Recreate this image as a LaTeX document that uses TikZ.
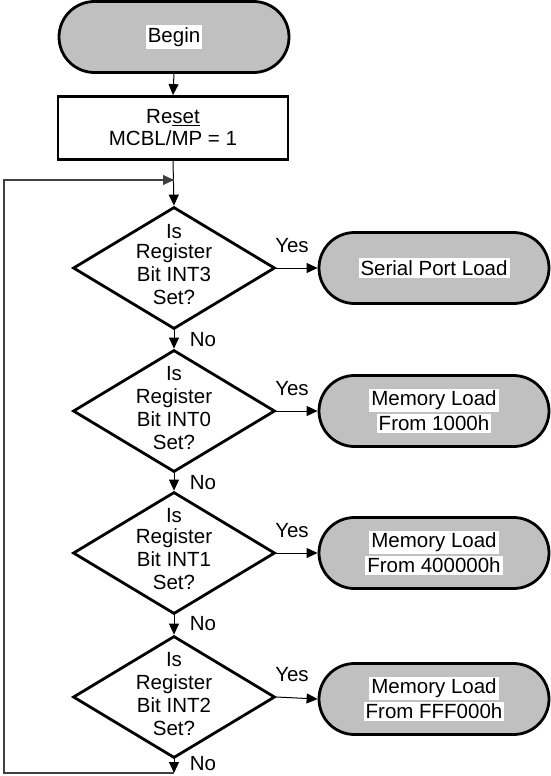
\documentclass[tikz,border=0pt]{standalone}
\usepackage{fontspec}
\setmainfont{Liberation Sans}
\usetikzlibrary{shapes.geometric,shapes.misc,arrows.meta}
\definecolor{termgray}{HTML}{C0C0C0}
\newcommand{\tbox}[1]{{\setlength{\fboxsep}{2pt}\colorbox{white}{#1}}}
\tikzset{
  every node/.style={font=\fontsize{20.5}{23}\selectfont},
  term/.style={rounded rectangle, draw=black, line width=2.8pt, fill=termgray,
    minimum width=230pt, minimum height=71pt, inner sep=0pt, align=center},
  procbox/.style={rectangle, draw=black, line width=2.8pt, fill=white,
    minimum width=230pt, minimum height=63pt, inner sep=0pt, align=center},
  dec/.style={diamond, draw=black, line width=2.8pt, fill=white,
    minimum width=202pt, minimum height=122pt, inner sep=0pt},
  dtext/.style={align=center, inner sep=0pt},
  lbl/.style={inner sep=0pt},
  conn/.style={line width=1pt, -{Triangle[length=11pt,width=10pt]}},
  loopline/.style={line width=1.2pt, draw=black!75},
}
\begin{document}
\begin{tikzpicture}[x=1pt,y=-1pt]
\useasboundingbox (0,0) rectangle (550,776);
% start and reset
\node[term] (begin) at (174,37) {\tbox{Begin}};
\node[procbox] (reset) at (173,128) {Re\underline{set}\\[-1pt]MCBL/MP = 1};
% decisions
\node[dec] (d1) at (174,268) {};
\node[dec] (d2) at (174,411) {};
\node[dec] (d3) at (174,553) {};
\node[dec] (d4) at (174,697) {};
\node[dtext] (d1t) at (174,265) {Is\\[-3pt]Register\\Bit INT3\\Set?};
\node[dtext] (d2t) at (174,408) {Is\\Register\\Bit INT0\\Set?};
\node[dtext] (d3t) at (174,549) {Is\\[-2pt]Register\\Bit INT1\\Set?};
\node[dtext] (d4t) at (174,694) {Is\\Register\\Bit INT2\\Set?};
% terminals
\node[term] (t1) at (434,268) {\tbox{Serial Port Load}};
\node[term] (t2) at (434,411) {\tbox{Memory Load}\\[1pt]\tbox{From 1000h}};
\node[term] (t3) at (434,553) {\tbox{Memory Load}\\[1pt]\tbox{From 400000h}};
\node[term] (t4) at (434,699) {\tbox{Memory Load}\\[1pt]\tbox{From FFF000h}};
% connectors
\draw[conn] (begin.south) -- (reset.north);
\draw[conn] (reset.south) -- (d1.north);
\draw[conn] (d1.south) -- (d2.north);
\draw[conn] (d2.south) -- (d3.north);
\draw[conn] (d3.south) -- (d4.north);
\draw[conn] (d1.east) -- (t1.west);
\draw[conn] (d2.east) -- (t2.west);
\draw[conn] (d3.east) -- (t3.west);
\draw[conn] (d4.east) -- (t4.west);
% loop back
\coordinate (bot) at (174,773);
\coordinate (loopL) at (4,773);
\coordinate (loopT) at (4,180);
\coordinate (entry) at (174,180);
\draw[conn] (d4.south) -- (bot);
\draw[loopline] (bot) -- (loopL) -- (loopT) -- (entry);
\draw[conn, draw=black!75] (loopT) -- (entry);
% labels
\node[lbl] (y1) at (292,246) {Yes};
\node[lbl] (y2) at (292,389) {Yes};
\node[lbl] (y3) at (292,531) {Yes};
\node[lbl] (y4) at (292,675) {Yes};
\node[lbl] (n1) at (203,340) {No};
\node[lbl] (n2) at (203,483) {No};
\node[lbl] (n3) at (203,624) {No};
\node[lbl] (n4) at (203,764) {No};
\end{tikzpicture}
\end{document}
